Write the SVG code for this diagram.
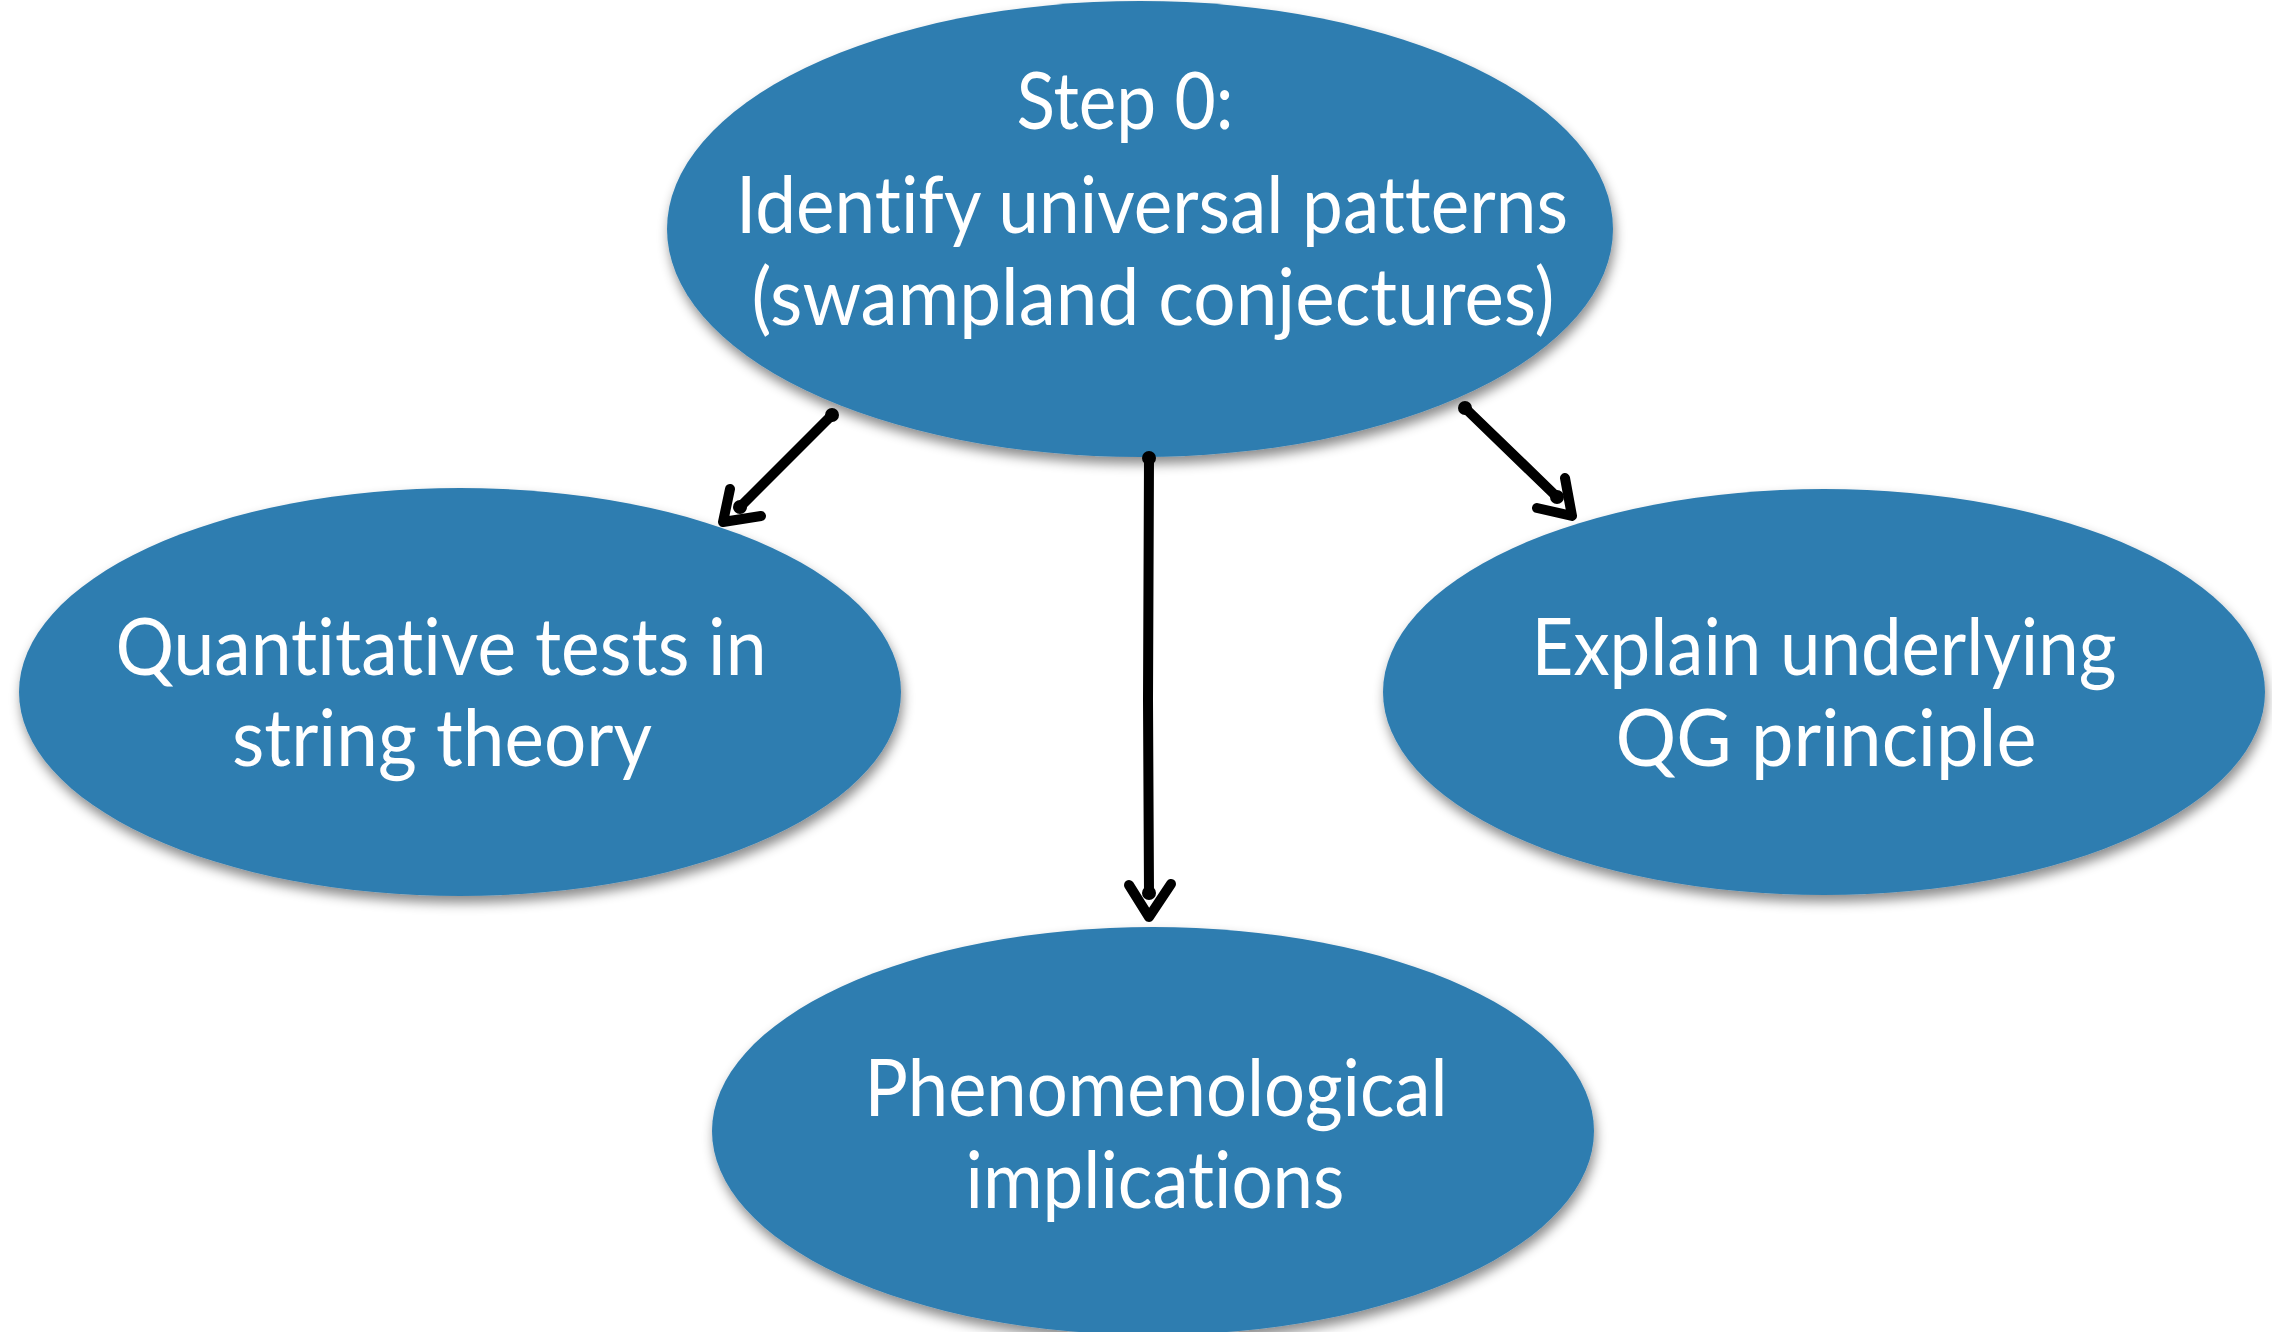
<svg xmlns="http://www.w3.org/2000/svg" width="2272" height="1332" viewBox="0 0 2272 1332">
<defs>
<filter id="shadow" x="-10%" y="-10%" width="120%" height="125%">
<feDropShadow dx="2" dy="7" stdDeviation="6" flood-color="#000" flood-opacity="0.45"/>
</filter>
<style>
.node{fill:#2f7db0;filter:url(#shadow);}
.lbl{font-family:"Lato","Open Sans","Liberation Sans",sans-serif;font-size:80px;fill:#ffffff;text-anchor:middle;font-variant-ligatures:none;font-feature-settings:"liga" 0;}
.conn{fill:none;stroke:#000;stroke-width:10;stroke-linecap:round;stroke-linejoin:round;}
.dot{fill:#000;}
</style>
</defs>
<rect width="2272" height="1332" fill="#ffffff"/>
<g id="node-step0">
<ellipse class="node" cx="1140" cy="229" rx="473" ry="228"/>
<text class="lbl" x="1125" y="129" textLength="217" lengthAdjust="spacingAndGlyphs">Step 0:</text>
<text class="lbl" x="1152" y="233" textLength="832" lengthAdjust="spacingAndGlyphs">Identify universal patterns</text>
<text class="lbl" x="1153" y="325" textLength="803" lengthAdjust="spacingAndGlyphs">(swampland conjectures)</text>
</g>
<g id="node-quantitative">
<ellipse class="node" cx="460" cy="692" rx="441" ry="204"/>
<text class="lbl" x="441" y="675" textLength="651" lengthAdjust="spacingAndGlyphs">Quantitative tests in</text>
<text class="lbl" x="442" y="766" textLength="420" lengthAdjust="spacingAndGlyphs">string theory</text>
</g>
<g id="node-explain">
<ellipse class="node" cx="1824" cy="692" rx="441" ry="203"/>
<text class="lbl" x="1824" y="675" textLength="585" lengthAdjust="spacingAndGlyphs">Explain underlying</text>
<text class="lbl" x="1826" y="766" textLength="421" lengthAdjust="spacingAndGlyphs">QG principle</text>
</g>
<g id="node-phenomenological">
<ellipse class="node" cx="1153" cy="1131" rx="441" ry="204"/>
<text class="lbl" x="1156" y="1116" textLength="583" lengthAdjust="spacingAndGlyphs">Phenomenological</text>
<text class="lbl" x="1155" y="1208" textLength="379" lengthAdjust="spacingAndGlyphs">implications</text>
</g>
<g id="connectors">
<path class="conn" d="M832,415 L740,507"/>
<circle class="dot" cx="832" cy="415" r="7"/>
<circle class="dot" cx="740" cy="507" r="7"/>
<path class="conn" d="M730,489 L723,522 L761,516"/>
<path class="conn" d="M1149,458 L1148,700 L1149,893"/>
<circle class="dot" cx="1149" cy="458" r="7"/>
<circle class="dot" cx="1149" cy="893" r="7"/>
<path class="conn" d="M1129,885 L1149,917 L1171,884"/>
<path class="conn" d="M1465,408 L1557,497"/>
<circle class="dot" cx="1465" cy="408" r="7"/>
<circle class="dot" cx="1557" cy="497" r="7"/>
<path class="conn" d="M1565,478 L1572,516 L1537,508"/>
</g>
</svg>
